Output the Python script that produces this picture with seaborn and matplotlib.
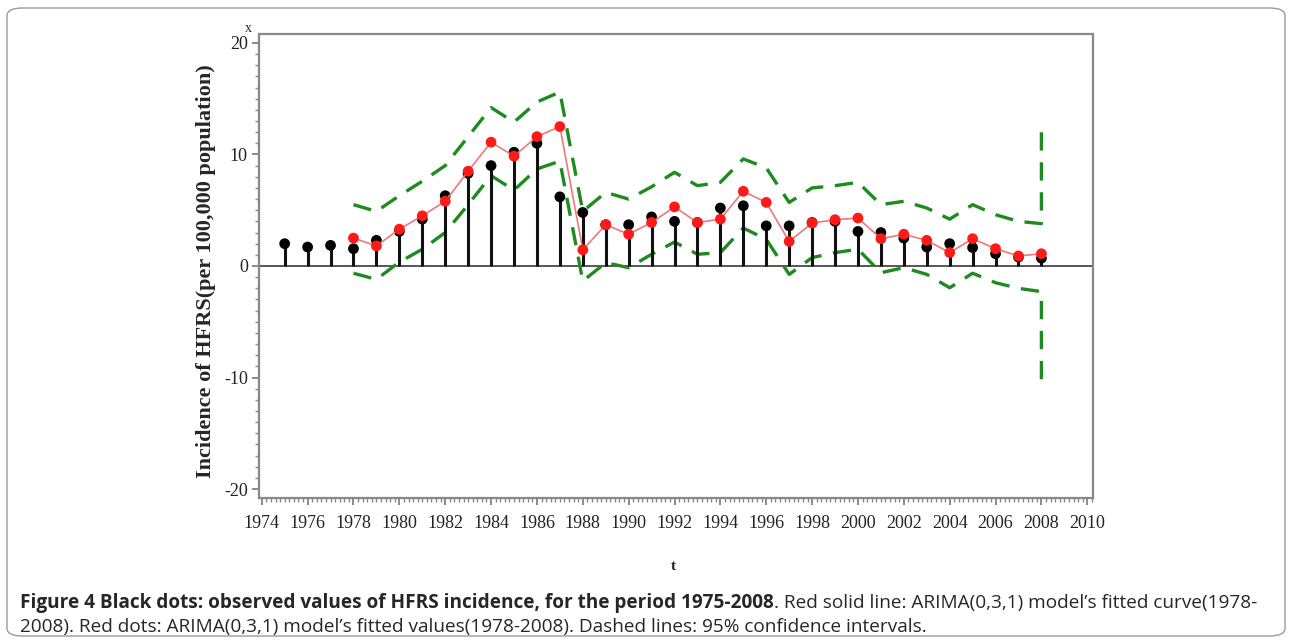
import matplotlib
matplotlib.use('Agg')
import matplotlib.pyplot as plt
from matplotlib.patches import FancyBboxPatch
from matplotlib.ticker import MultipleLocator
import seaborn as sns
import numpy as np
import pandas as pd

# observed incidence 1975-2008
obs_years = list(range(1975, 2009))
observed = [2.0, 1.7, 1.85, 1.55, 2.3, 3.1, 4.2, 6.3, 8.3, 9.0,
            10.2, 11.0, 6.2, 4.8, 3.7, 3.7, 4.4, 4.0, 3.9, 5.2,
            5.4, 3.6, 3.6, 3.9, 4.0, 3.1, 3.0, 2.5, 1.7, 2.0,
            1.65, 1.1, 0.8, 0.7]

# ARIMA(0,3,1) fitted values 1978-2008
fit_years = list(range(1978, 2009))
fitted = [2.5, 1.8, 3.3, 4.5, 5.8, 8.5, 11.1, 9.85, 11.6, 12.5,
          1.45, 3.7, 2.85, 3.9, 5.3, 3.9, 4.2, 6.7, 5.7, 2.2,
          3.85, 4.15, 4.3, 2.45, 2.85, 2.3, 1.2, 2.45, 1.55, 0.9,
          1.1]

# 95% confidence limits (last point is the forecast limit drawn at 2008)
ci_years = list(range(1978, 2009)) + [2008]
upper = [5.5, 4.9, 6.3, 7.6, 9.0, 11.6, 14.2, 12.9, 14.7, 15.6,
         4.9, 6.6, 6.0, 7.1, 8.4, 7.2, 7.5, 9.6, 8.8, 5.7,
         7.0, 7.2, 7.5, 5.5, 5.8, 5.2, 4.2, 5.5, 4.6, 4.0,
         3.8, 12.7]
lower = [-0.65, -1.2, 0.35, 1.5, 3.0, 5.5, 8.1, 6.8, 8.7, 9.4,
         -1.35, 0.3, -0.15, 1.05, 2.15, 1.05, 1.2, 3.4, 2.4, -0.75,
         0.75, 1.2, 1.5, -0.6, -0.15, -0.75, -1.95, -0.65, -1.5, -2.0,
         -2.3, -10.7]

caption_bold = "Figure 4 Black dots: observed values of HFRS incidence, for the period 1975-2008"
caption_rest1 = ". Red solid line: ARIMA(0,3,1) model\u2019s fitted curve(1978-"
caption_line2 = "2008). Red dots: ARIMA(0,3,1) model\u2019s fitted values(1978-2008). Dashed lines: 95% confidence intervals."

sns.set_style('white')
plt.rcParams['axes.unicode_minus'] = False

df_obs = pd.DataFrame({'year': obs_years, 'value': observed})
df_fit = pd.DataFrame({'year': fit_years, 'value': fitted})

W, H = 1292, 642
fig = plt.figure(figsize=(W / 100, H / 100), dpi=100)
ax = fig.add_axes([259 / W, 1 - 498 / H, (1093 - 259) / W, (498 - 34) / H])

green = '#1f8a1f'
ax.plot(ci_years, upper, color=green, lw=2.4, ls=(0, (5.5, 3.5)), zorder=2)
ax.plot(ci_years, lower, color=green, lw=2.4, ls=(0, (5.5, 3.5)), zorder=2)

ax.axhline(0, color='#555555', lw=1.4, zorder=1)
ax.vlines(df_obs['year'], 0, df_obs['value'], color='#111111', lw=2.2, zorder=3)
sns.scatterplot(data=df_obs, x='year', y='value', color='black', s=60,
                edgecolor='none', ax=ax, zorder=4)
sns.lineplot(data=df_fit, x='year', y='value', color='#f07878', lw=1.2,
             ax=ax, zorder=5)
sns.scatterplot(data=df_fit, x='year', y='value', color='#ff1a1a', s=60,
                edgecolor='none', ax=ax, zorder=6)

ax.set_xlim(1973.88, 2010.25)
ax.set_ylim(-20.8, 20.8)
ax.set_xticks(range(1974, 2011, 2))
ax.set_yticks([-20, -10, 0, 10, 20])
ax.xaxis.set_minor_locator(MultipleLocator(0.2))
ax.yaxis.set_minor_locator(MultipleLocator(1))
ax.tick_params(which='major', direction='out', length=5, width=1.2,
               color='#777777', bottom=True, left=True, pad=3)
ax.tick_params(axis='x', which='major', pad=7)
ax.tick_params(which='minor', direction='out', length=3, width=1.0,
               color='#888888', bottom=True, left=True)
for lab in ax.get_xticklabels() + ax.get_yticklabels():
    lab.set_family('Liberation Serif')
    lab.set_fontsize(13)
    lab.set_color('#222222')

for s in ax.spines.values():
    s.set_color('#888888')
    s.set_linewidth(1.6)

ax.set_xlabel('')
ax.set_ylabel('')
fig.text(206 / W, 1 - 271 / H, 'Incidence of HFRS(per 100,000 population)',
         rotation=90, ha='center', va='center', family='Liberation Serif',
         fontweight='bold', fontsize=16)
fig.text(673 / W, 1 - 567 / H, 't', ha='center', va='center',
         family='Liberation Serif', fontweight='bold', fontsize=11)
fig.text(248 / W, 1 - 28 / H, 'x', ha='center', va='center',
         family='Liberation Serif', fontsize=10)

# rounded frame around figure and caption
frame = FancyBboxPatch((7 / W, 6 / H), (W - 14) / W, (H - 14) / H,
                       boxstyle='round,pad=0,rounding_size=0.012',
                       transform=fig.transFigure, fill=False,
                       edgecolor='#9a9a9a', lw=1.0)
fig.patches.append(frame)

cap_font = 'Open Sans'
fig.canvas.draw()
r = fig.canvas.get_renderer()
t1 = fig.text(20 / W, 1 - 603 / H, caption_bold, ha='left', va='center',
              family=cap_font, fontweight='bold', fontsize=13.7)
bb = t1.get_window_extent(r)
fig.text(bb.x1 / W, 1 - 603 / H, caption_rest1, ha='left', va='center',
         family=cap_font, fontsize=13.7)
fig.text(20 / W, 1 - 627 / H, caption_line2, ha='left', va='center',
         family=cap_font, fontsize=13.7)

fig.savefig('out.png', dpi=100)
